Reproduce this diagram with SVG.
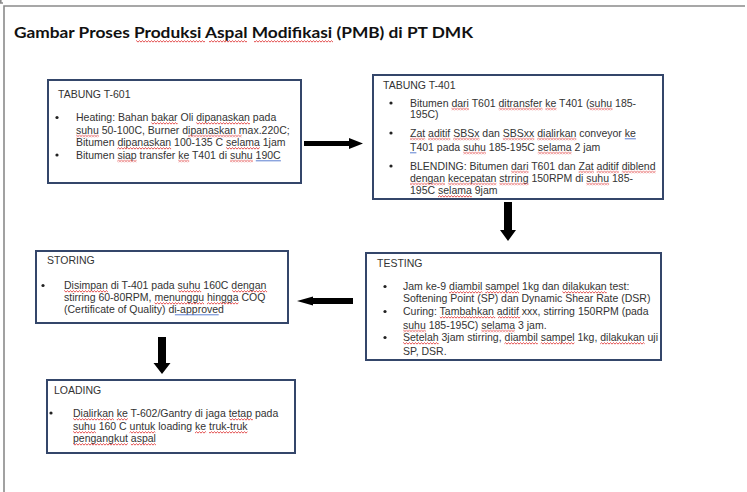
<svg xmlns="http://www.w3.org/2000/svg" width="747" height="492" viewBox="0 0 747 492">
  <style>
    .page { fill: none; stroke: #8a8a8a; stroke-width: 1.6; }
    .box { fill: #ffffff; stroke: #34466a; stroke-width: 2; }
    .title { font-family: Lato, "Liberation Sans", sans-serif; font-weight: bold; font-size: 15.5px; fill: #111; }
    .t { font-family: "Liberation Sans", Arial, sans-serif; font-size: 10.5px; fill: #333; }
    .dot { fill: #222; }
    .sq rect { fill: url(#squiggle); }
    .gr { stroke: #4a70cc; stroke-width: 0.9; }
    .arrow { fill: #000; }
  </style>
  <defs>
    <!-- red wavy spelling mark, tiled along each flagged word -->
    <pattern id="squiggle" width="3" height="3" patternUnits="userSpaceOnUse">
      <path d="M-0.2,2.3 L1.5,0.7 L3.2,2.3" fill="none" stroke="#e03a3a" stroke-width="0.9"/>
    </pattern>
  </defs>

  <!-- page edges -->
  <polyline class="page" points="4,492 4,6 745,6"/>
  <polyline class="page" points="0.8,0 0.8,3 3,3" stroke-width="1"/>

  <!-- heading -->
  <text class="title" x="14" y="38" textLength="459" lengthAdjust="spacingAndGlyphs">Gambar Proses Produksi Aspal Modifikasi (PMB) di PT DMK</text>
  <g class="sq" transform="translate(0,40)">
    <rect x="136" y="0" width="69" height="3"/>
    <rect x="209" y="0" width="38" height="3"/>
    <rect x="254" y="0" width="79" height="3"/>
  </g>

  <!-- connectors -->
  <g id="connectors">
    <polygon class="arrow" points="304,141 349,141 349,138 363,143.5 349,149 349,146 304,146"/>
    <polygon class="arrow" points="504,202 512,202 512,230 516,230 508,241 500,230 504,230"/>
    <polygon class="arrow" points="353,298 313,298 313,296.5 297,301 313,305.5 313,304 353,304"/>
    <polygon class="arrow" points="158,337 166,337 166,363 170.5,363 162,374 153.5,363 158,363"/>
  </g>

  <!-- TABUNG T-601 -->
  <g id="tabung-t601">
    <rect class="box" x="48" y="80" width="253" height="103"/>
    <text class="t" x="58" y="98">TABUNG T-601</text>
    <circle class="dot" cx="57" cy="117.5" r="1.6"/>
    <circle class="dot" cx="57" cy="155" r="1.6"/>
    <text class="t" x="76" y="121">Heating: Bahan bakar Oli dipanaskan pada</text>
    <text class="t" x="76" y="133.5">suhu 50-100C, Burner dipanaskan max.220C;</text>
    <text class="t" x="76" y="146">Bitumen dipanaskan 100-135 C selama 1jam</text>
    <text class="t" x="76" y="158.5">Bitumen siap transfer ke T401 di suhu 190C</text>
    <g class="sq" transform="translate(0,122)">
      <rect x="151.3" y="0" width="26.3" height="3"/>
      <rect x="196.2" y="0" width="53.7" height="3"/>
    </g>
    <g class="sq" transform="translate(0,134.5)">
      <rect x="76" y="0" width="22.8" height="3"/>
      <rect x="188.1" y="0" width="53.7" height="3"/>
    </g>
    <g class="sq" transform="translate(0,147)">
      <rect x="117.4" y="0" width="53.7" height="3"/>
      <rect x="226" y="0" width="33.8" height="3"/>
    </g>
    <g class="sq" transform="translate(0,159.5)">
      <rect x="117.4" y="0" width="19.3" height="3"/>
      <rect x="178.1" y="0" width="11.1" height="3"/>
      <rect x="230.1" y="0" width="22.8" height="3"/>
    </g>
    <line class="gr" x1="255.8" y1="160.8" x2="280.9" y2="160.8"/>
  </g>

  <!-- TABUNG T-401 -->
  <g id="tabung-t401">
    <rect class="box" x="373" y="75" width="290" height="124"/>
    <text class="t" x="383" y="88.5">TABUNG T-401</text>
    <circle class="dot" cx="391" cy="103" r="1.6"/>
    <circle class="dot" cx="391" cy="133" r="1.6"/>
    <circle class="dot" cx="391" cy="166" r="1.6"/>
    <text class="t" x="410" y="106.5">Bitumen dari T601 ditransfer ke T401 (suhu 185-</text>
    <text class="t" x="410" y="118">195C)</text>
    <text class="t" x="410" y="136.5">Zat aditif SBSx dan SBSxx dialirkan conveyor ke</text>
    <text class="t" x="410" y="150.5">T401 pada suhu 185-195C selama 2 jam</text>
    <text class="t" x="410" y="169.5">BLENDING: Bitumen dari T601 dan Zat aditif diblend</text>
    <text class="t" x="410" y="181.5">dengan kecepatan strring 150RPM di suhu 185-</text>
    <text class="t" x="410" y="194">195C selama 9jam</text>
    <g class="sq" transform="translate(0,107.5)">
      <rect x="451.4" y="0" width="17.5" height="3"/>
      <rect x="498.7" y="0" width="43.8" height="3"/>
      <rect x="545.4" y="0" width="11.1" height="3"/>
      <rect x="589.7" y="0" width="22.8" height="3"/>
    </g>
    <g class="sq" transform="translate(0,137.5)">
      <rect x="410" y="0" width="15.2" height="3"/>
      <rect x="428.1" y="0" width="22.2" height="3"/>
      <rect x="453.2" y="0" width="26.3" height="3"/>
      <rect x="502.8" y="0" width="31.5" height="3"/>
      <rect x="537.2" y="0" width="39.1" height="3"/>
    </g>
    <line class="gr" x1="624.8" y1="138.8" x2="635.9" y2="138.8"/>
    <line class="gr" x1="410" y1="152.8" x2="416.4" y2="152.8"/>
    <g class="sq" transform="translate(0,151.5)">
      <rect x="463.1" y="0" width="22.8" height="3"/>
      <rect x="537.8" y="0" width="33.8" height="3"/>
    </g>
    <g class="sq" transform="translate(0,170.5)">
      <rect x="511" y="0" width="17.5" height="3"/>
      <rect x="578.7" y="0" width="15.2" height="3"/>
      <rect x="596.7" y="0" width="22.2" height="3"/>
      <rect x="621.8" y="0" width="33.9" height="3"/>
    </g>
    <g class="sq" transform="translate(0,182.5)">
      <rect x="410" y="0" width="35" height="3"/>
      <rect x="447.9" y="0" width="48.5" height="3"/>
      <rect x="499.3" y="0" width="29.2" height="3"/>
      <rect x="586.3" y="0" width="22.8" height="3"/>
    </g>
    <g class="sq" transform="translate(0,195)">
      <rect x="438" y="0" width="33.8" height="3"/>
    </g>
  </g>

  <!-- TESTING -->
  <g id="testing">
    <rect class="box" x="366" y="253" width="295" height="107"/>
    <text class="t" x="377" y="266.5">TESTING</text>
    <circle class="dot" cx="385" cy="286.5" r="1.6"/>
    <circle class="dot" cx="385" cy="311.5" r="1.6"/>
    <circle class="dot" cx="385" cy="337.5" r="1.6"/>
    <text class="t" x="403" y="290">Jam ke-9 diambil sampel 1kg dan dilakukan test:</text>
    <text class="t" x="403" y="302">Softening Point (SP) dan Dynamic Shear Rate (DSR)</text>
    <text class="t" x="403" y="315">Curing: Tambahkan aditif xxx, stirring 150RPM (pada</text>
    <text class="t" x="403" y="328.5">suhu 185-195C) selama 3 jam.</text>
    <text class="t" x="403" y="341">Setelah 3jam stirring, diambil sampel 1kg, dilakukan uji</text>
    <text class="t" x="403" y="354.5">SP, DSR.</text>
    <g class="sq" transform="translate(0,291)">
      <rect x="449.1" y="0" width="33.3" height="3"/>
      <rect x="485.3" y="0" width="33.8" height="3"/>
      <rect x="562.3" y="0" width="44.4" height="3"/>
    </g>
    <g class="sq" transform="translate(0,316)">
      <rect x="439.8" y="0" width="55.4" height="3"/>
      <rect x="498.1" y="0" width="22.2" height="3"/>
    </g>
    <g class="sq" transform="translate(0,329.5)">
      <rect x="403" y="0" width="22.8" height="3"/>
      <rect x="481.2" y="0" width="33.8" height="3"/>
    </g>
    <g class="sq" transform="translate(0,342)">
      <rect x="403" y="0" width="35.6" height="3"/>
      <rect x="504.5" y="0" width="33.3" height="3"/>
      <rect x="540.7" y="0" width="33.8" height="3"/>
      <rect x="600.2" y="0" width="44.4" height="3"/>
    </g>
  </g>

  <!-- STORING -->
  <g id="storing">
    <rect class="box" x="36" y="251" width="252" height="72"/>
    <text class="t" x="47" y="263.5">STORING</text>
    <circle class="dot" cx="43" cy="285.5" r="1.6"/>
    <text class="t" x="64" y="289">Disimpan di T-401 pada suhu 160C dengan</text>
    <text class="t" x="64" y="301">stirring 60-80RPM, menunggu hingga COQ</text>
    <text class="t" x="64" y="312.5">(Certificate of Quality) di-approved</text>
    <g class="sq" transform="translate(0,290)">
      <rect x="64" y="0" width="43.8" height="3"/>
      <rect x="178.4" y="0" width="22.8" height="3"/>
      <rect x="232.1" y="0" width="35" height="3"/>
    </g>
    <g class="sq" transform="translate(0,302)">
      <rect x="154.4" y="0" width="49.6" height="3"/>
      <rect x="207" y="0" width="31.5" height="3"/>
    </g>
    <line class="gr" x1="174.9" y1="314.8" x2="218.7" y2="314.8"/>
  </g>

  <!-- LOADING -->
  <g id="loading">
    <rect class="box" x="47" y="380" width="248" height="73"/>
    <text class="t" x="54" y="393.5">LOADING</text>
    <circle class="dot" cx="51" cy="413" r="1.6"/>
    <text class="t" x="73" y="417">Dialirkan ke T-602/Gantry di jaga tetap pada</text>
    <text class="t" x="73" y="430">suhu 160 C untuk loading ke truk-truk</text>
    <text class="t" x="73" y="442">pengangkut aspal</text>
    <g class="sq" transform="translate(0,418)">
      <rect x="73" y="0" width="40.8" height="3"/>
      <rect x="116.8" y="0" width="11.1" height="3"/>
      <rect x="229.4" y="0" width="23.4" height="3"/>
    </g>
    <g class="sq" transform="translate(0,431)">
      <rect x="73" y="0" width="22.8" height="3"/>
      <rect x="129.6" y="0" width="25.7" height="3"/>
      <rect x="195" y="0" width="11.1" height="3"/>
      <rect x="209" y="0" width="38.5" height="3"/>
    </g>
    <g class="sq" transform="translate(0,443)">
      <rect x="73" y="0" width="54.9" height="3"/>
      <rect x="130.8" y="0" width="25.1" height="3"/>
    </g>
  </g>
</svg>
